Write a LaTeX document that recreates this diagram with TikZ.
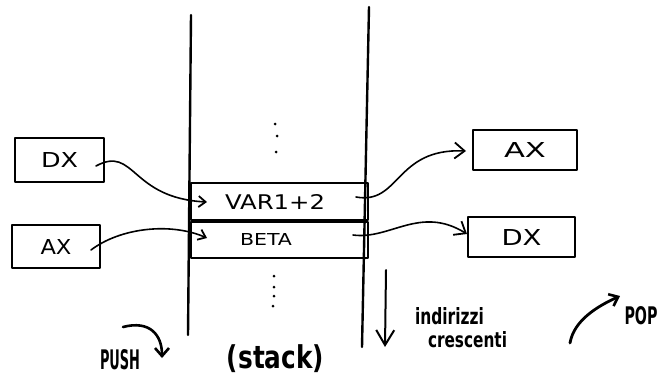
\documentclass[tikz,border=0pt]{standalone}
\usepackage{fontspec}
\setmainfont{DejaVu Sans}
\usepackage{graphicx}
\usetikzlibrary{arrows.meta,calc}
% text squeezed to a given width and height, like hand lettering
\newcommand{\handtext}[3]{\resizebox{#1}{#2}{#3}}
\newcommand{\heavytext}[3]{\resizebox{#1}{#2}{\bfseries #3}}

\begin{document}
\begin{tikzpicture}[x=1pt,y=-1pt,line cap=round,line join=round,
  wall/.style={line width=2.4pt},
  box/.style={draw,line width=2pt,inner sep=0pt},
  cell/.style={draw,line width=2pt,inner sep=0pt,minimum width=177pt},
  lbl/.style={inner sep=0pt},
  dot/.style={circle,fill,inner sep=0pt,minimum size=3pt},
  inlink/.style={line width=1.6pt,-{Straight Barb[length=7pt,width=11pt,line width=1.8pt]}},
  outlink/.style={line width=1.6pt,-{Straight Barb[length=10pt,width=16pt,line width=1.8pt]}},
  bigarrow/.style={line width=2.6pt,-{Straight Barb[length=8pt,width=14pt,line width=2.6pt]}}]

\useasboundingbox (0,0) rectangle (658,375);

% walls of the stack
\draw[wall] (191,15) -- (188,335);
\draw[wall] (369,7) -- (362,347);

% the two stack cells
\node[cell,minimum height=37pt] (var) at (279.5,201.5) {};
\node[cell,minimum height=36pt] (beta) at (279.5,240) {};
\node[lbl] (varlbl) at ($(var.center)+(-4.5,0)$) {\handtext{100pt}{15pt}{VAR1+2}};
\node[lbl] (betalbl) at ($(beta.center)+(-13.5,-1)$) {\handtext{52pt}{12pt}{BETA}};

% ellipsis above and below the cells
\foreach \p/\q [count=\i] in {275/124,277/136,276/152} \node[dot] (up\i) at (\p,\q) {};
\foreach \p/\q [count=\i] in {274/276,274/287,274/296,273/306} \node[dot] (dn\i) at (\p,\q) {};

% registers
\node[box,minimum width=89pt,minimum height=44pt] (ldx) at (59.5,160) {\handtext{37pt}{15pt}{DX}};
\node[box,minimum width=88pt,minimum height=43pt] (lax) at (56,246.5) {\handtext{31pt}{15pt}{AX}};
\node[box,minimum width=104pt,minimum height=40pt] (rax) at (525,150) {\handtext{42pt}{15pt}{AX}};
\node[box,minimum width=107pt,minimum height=40pt] (rdx) at (521.5,237) {\handtext{40pt}{16pt}{DX}};

% push: registers into the stack
\draw[inlink] ($(ldx.east)+(-9,6)$) .. controls (135,145) and (130,198) .. ($(var.west)+(17,0.5)$);
\draw[inlink] ($(lax.east)+(-10,3.5)$) .. controls (120,228) and (170,222) .. ($(beta.west)+(17,-2)$);

% pop: stack into the registers
\draw[outlink] ($(var.east)+(-13,-4.5)$) .. controls (400,205) and (395,148) .. ($(rax.west)+(-6,1)$);
\draw[outlink] ($(beta.east)+(-16,-5)$) .. controls (390,240) and (420,205) .. ($(rdx.west)+(0,-3)$);

% captions
\node[lbl] (push) at (120,360) {\heavytext{40pt}{20pt}{PUSH}};
\node[lbl] (stack) at (275.5,359) {\resizebox*{97pt}{28pt}{\bfseries (stack)}};
\node[lbl] (ind) at (449.5,316.5) {\heavytext{69pt}{17pt}{indirizzi}};
\node[lbl] (cre) at (467.5,340) {\heavytext{79pt}{16pt}{crescenti}};
\node[lbl] (pop) at (641,316) {\heavytext{33pt}{18pt}{POP}};

% direction arrows
\coordinate (push-from) at (123,327);
\coordinate (push-to) at (162,358);
\draw[bigarrow] (push-from) .. controls (150,320) and (162,335) .. (push-to);

\coordinate (addr-from) at (386,270);
\coordinate (addr-to) at (385,347);
\draw[line width=2pt,-{Straight Barb[length=15pt,width=18pt,line width=2pt]}] (addr-from) -- (addr-to);

\coordinate (pop-from) at (570,343);
\coordinate (pop-to) at (620,296);
\draw[line width=2.8pt,-{Straight Barb[length=8pt,width=13pt,line width=2.6pt]}] (pop-from) .. controls (574,320) and (598,306) .. (pop-to);
\end{tikzpicture}
\end{document}
